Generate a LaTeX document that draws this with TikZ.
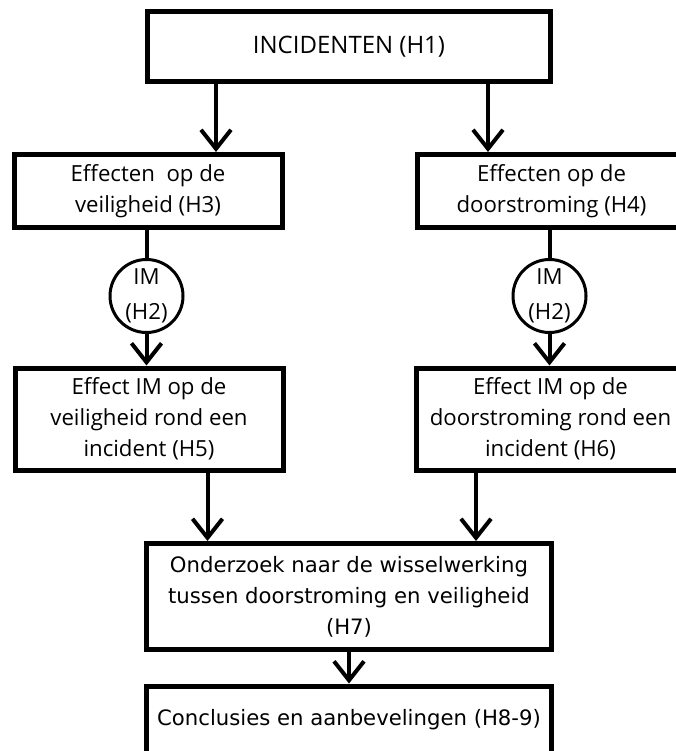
\documentclass[tikz,border=0pt]{standalone}
\usepackage{fontspec}
\setmainfont{Open Sans}
\newfontfamily\lowfont{DejaVu Sans}
\usetikzlibrary{arrows.meta}
\begin{document}
\begin{tikzpicture}[x=1pt, y=-1pt,
        box/.style={draw, line width=5pt, align=center, inner sep=0pt, font=\fontsize{22.2}{31}\selectfont},
        lowbox/.style={box, minimum width=405pt, font=\lowfont\fontsize{21.2}{31}\selectfont},
        imcirc/.style={draw, circle, line width=3pt, minimum size=73pt, inner sep=-10pt, align=center, font=\fontsize{22.2}{35}\selectfont},
        arr/.style={line width=4pt, -{Straight Barb[length=19pt, width=30pt, line width=4pt]}}]
    \useasboundingbox (0,0) rectangle (676,751);
    \clip (0,0) rectangle (676,751);
    \node [box, minimum width=403pt, minimum height=70pt, font=\fontsize{24}{31}\selectfont] (h1) at (349,47) {INCIDENTEN (H1)};
    \node [box, minimum width=268pt, minimum height=73pt] (h3) at (148,191) {Effecten\ \ op de\\veiligheid (H3)};
    \node [box, minimum width=268pt, minimum height=73pt] (h4) at (551.5,191) {Effecten op de\\doorstroming (H4)};
    \foreach \n/\x in {3/146.5, 4/549.5}
        \node [imcirc] (im\n) at (\x,296) {IM\\(H2)};
    \node [box, minimum width=268pt, minimum height=102pt] (h5) at (149,419) {Effect IM op de\\veiligheid rond een\\incident (H5)};
    \node [box, minimum width=268pt, minimum height=102pt] (h6) at (550.5,419) {Effect IM op de\\doorstroming rond een\\incident (H6)};
    \node [lowbox, minimum height=106pt] (h7) at (349,596.5) {Onderzoek naar de wisselwerking\\tussen doorstroming en veiligheid\\(H7)};
    \node [lowbox, minimum height=68pt] (h8) at (349,720) {Conclusies en aanbevelingen (H8-9)};

    \draw [arr] ([xshift=-133pt]h1.south) -- ([xshift=68pt]h3.north);
    \draw [arr] ([xshift=139pt]h1.south) -- ([xshift=-63.5pt]h4.north);
    \foreach \a/\b in {3/5, 4/6} {
        \draw [line width=4pt] (h\a.south -| im\a) -- (im\a.north);
        \draw [arr] (im\a.south) -- (im\a.south |- h\b.north);
    }
    \draw [arr] ([xshift=58.5pt]h5.south) -- ([xshift=-141.5pt]h7.north);
    \draw [arr] ([xshift=-74.5pt]h6.south) -- ([xshift=127pt]h7.north);
    \draw [arr] (h7) -- (h8);
\end{tikzpicture}
\end{document}
